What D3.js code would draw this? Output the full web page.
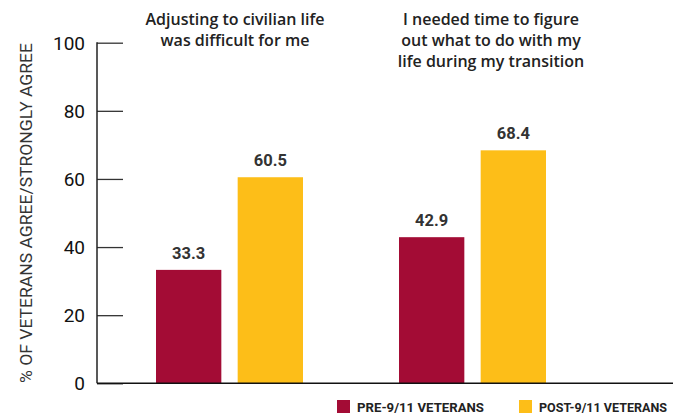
<!DOCTYPE html>
<html>
<head>
<meta charset="utf-8">
<script src="https://cdn.jsdelivr.net/npm/d3@7"></script>
<style>
  html, body { margin: 0; padding: 0; background: #fff; }
  svg { display: block; }
</style>
</head>
<body>
<svg id="chart" width="673" height="415"></svg>
<script>
const groups = ["g1", "g2"];
const groupTitles = [
  ["Adjusting to civilian life", "was difficult for me"],
  ["I needed time to figure", "out what to do with my", "life during my transition"]
];
const seriesNames = ["PRE-9/11 VETERANS", "POST-9/11 VETERANS"];
const preValues = [33.3, 42.9];
const postValues = [60.5, 68.4];
const yTicks = [0, 20, 40, 60, 80, 100];
const yTitle = "% OF VETERANS AGREE/STRONGLY AGREE";
const colors = ["#A30C35", "#FDBE18"];

const svg = d3.select("#chart");
const x0 = 97, yBase = 383.3, yTop = 42.7;

const y = d3.scaleLinear().domain([0, 100]).range([yBase, yTop]);
const xg = d3.scaleBand().domain(groups).range([108, 594]).paddingInner(0).paddingOuter(0);
const xs = d3.scaleBand().domain(seriesNames).range([0, 147]).paddingInner(0.2);

// y axis
const yAxis = d3.axisRight(y).tickValues(yTicks).tickSize(26).tickFormat("");
const ax = svg.append("g").attr("transform", `translate(${x0},0)`).call(yAxis);
ax.select(".domain").remove();
ax.selectAll(".tick line").attr("stroke", "#333").attr("stroke-width", 1.3);

// tick labels
svg.append("g").selectAll("text").data(yTicks).join("text")
  .attr("x", 85).attr("y", d => y(d)).attr("dy", "0.36em")
  .attr("text-anchor", "end")
  .attr("font-family", "Roboto, sans-serif").attr("font-size", 19)
  .attr("fill", "#111").text(d => d);

// axis line
svg.append("line").attr("x1", x0).attr("x2", x0).attr("y1", yTop - 0.5).attr("y2", yBase)
  .attr("stroke", "#222").attr("stroke-width", 1.5);

// y title
svg.append("text")
  .attr("transform", `translate(32,${(yBase + yTop) / 2}) rotate(-90)`)
  .attr("text-anchor", "middle")
  .attr("font-family", "Roboto, sans-serif").attr("font-size", 16)
  .attr("textLength", 340).attr("lengthAdjust", "spacingAndGlyphs")
  .attr("fill", "#333").text(yTitle);

// bars
const data = groups.map((g, i) => ({ g, vals: [preValues[i], postValues[i]] }));
const gg = svg.append("g").selectAll("g").data(data).join("g")
  .attr("transform", d => `translate(${xg(d.g) + (xg.bandwidth() - 147) / 2},0)`);
gg.selectAll("rect").data(d => d.vals.map((v, j) => ({ v, s: seriesNames[j], j })))
  .join("rect")
  .attr("x", d => xs(d.s)).attr("width", xs.bandwidth())
  .attr("y", d => y(d.v)).attr("height", d => yBase - y(d.v))
  .attr("fill", d => colors[d.j]);
gg.selectAll("text").data(d => d.vals.map((v, j) => ({ v, s: seriesNames[j], j })))
  .join("text")
  .attr("x", d => xs(d.s) + xs.bandwidth() / 2).attr("y", d => y(d.v) - 11)
  .attr("text-anchor", "middle")
  .attr("font-family", "Roboto, sans-serif").attr("font-weight", 700).attr("font-size", 16.5)
  .attr("fill", "#333").text(d => d.v.toFixed(1));

// baseline
svg.append("line").attr("x1", x0).attr("x2", 673).attr("y1", yBase).attr("y2", yBase)
  .attr("stroke", "#111").attr("stroke-width", 1.6);

// group titles
const titleX = [235, 491];
groupTitles.forEach((lines, i) => {
  const t = svg.append("text").attr("text-anchor", "middle")
    .attr("font-family", "'Open Sans', sans-serif").attr("font-weight", 600).attr("font-size", 16)
    .attr("fill", "#222");
  lines.forEach((ln, k) => {
    t.append("tspan").attr("x", titleX[i]).attr("y", 25 + k * 20.8).text(ln);
  });
});

// legend
const legX = [337, 519];
const legW = [127, 128];
seriesNames.forEach((s, i) => {
  svg.append("rect").attr("x", legX[i]).attr("y", 400).attr("width", 13).attr("height", 13)
    .attr("fill", colors[i]);
  svg.append("text").attr("x", legX[i] + 20).attr("y", 411.7)
    .attr("font-family", "Roboto, sans-serif").attr("font-weight", 700).attr("font-size", 13)
    .attr("textLength", legW[i]).attr("lengthAdjust", "spacingAndGlyphs")
    .attr("fill", "#222").text(s);
});
</script>
</body>
</html>
